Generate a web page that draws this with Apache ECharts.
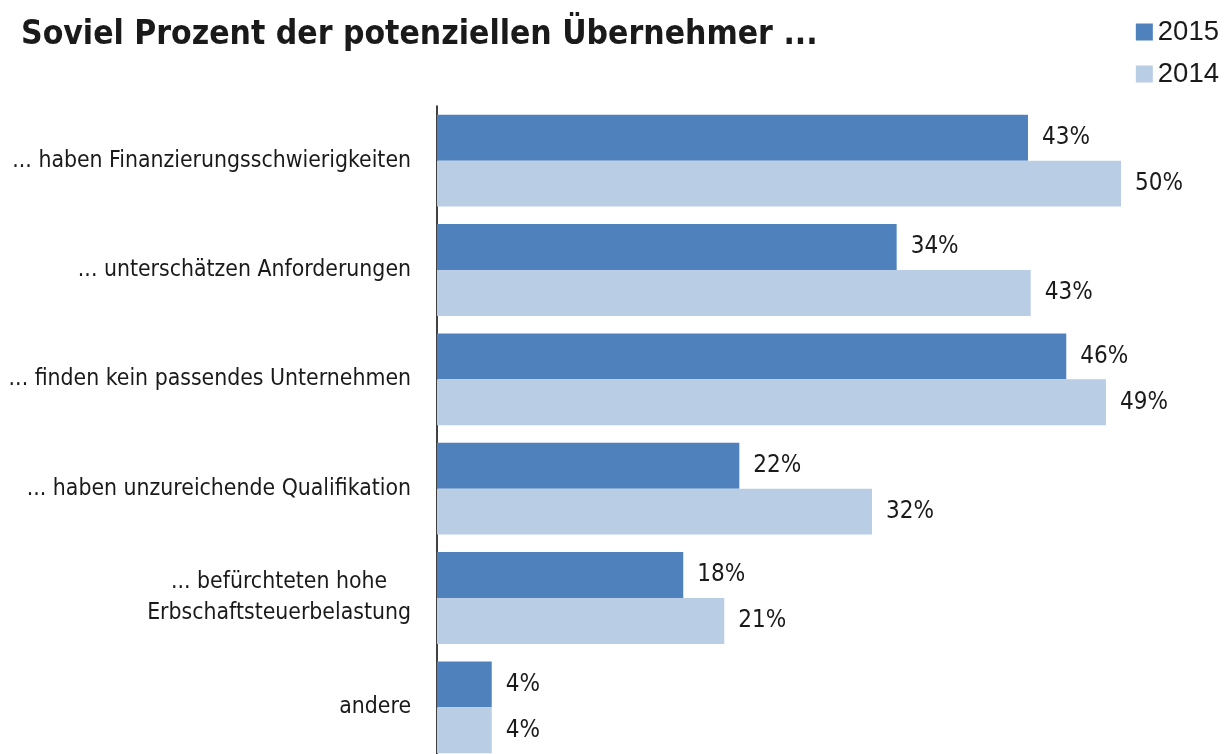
<!DOCTYPE html>
<html>
<head>
<meta charset="utf-8">
<script src="https://cdn.jsdelivr.net/npm/echarts@6/dist/echarts.min.js"></script>
<style>
  html, body { margin: 0; padding: 0; background: #fff; }
  #chart { width: 1228px; height: 754px; }
</style>
</head>
<body>
<div id="chart"></div>
<script>
// Daten (Balkenlängen, Beschriftung gerundet)
const categories = [
  '... haben Finanzierungsschwierigkeiten',
  '... unterschätzen Anforderungen',
  '... finden kein passendes Unternehmen',
  '... haben unzureichende Qualifikation',
  '... befürchteten hohe\nErbschaftsteuerbelastung',
  'andere'
];
const seriesNames = ['2015', '2014'];
const values2015 = [43.2, 33.6, 46.0, 22.1, 18.0, 4.0];
const values2014 = [50.0, 43.4, 48.9, 31.8, 21.0, 4.0];

const chart = echarts.init(document.getElementById('chart'));

const labelFont = 'DejaVu Sans Condensed';
const textColor = '#1a1a1a';

const barLabel = {
  show: true,
  position: 'right',
  distance: 14,
  formatter: p => Math.round(p.value) + '%',
  fontFamily: labelFont,
  fontSize: 24,
  color: textColor
};

const option = {
  animation: false,
  title: {
    text: 'Soviel Prozent der potenziellen Übernehmer ...',
    left: 16,
    top: 14,
    textStyle: {
      fontFamily: labelFont,
      fontWeight: 'bold',
      fontSize: 33.4,
      color: textColor
    }
  },
  legend: {
    orient: 'vertical',
    right: 4,
    top: 13,
    itemWidth: 17,
    itemHeight: 17,
    itemGap: 14,
    icon: 'rect',
    textStyle: { fontFamily: 'Liberation Sans', fontSize: 27.5, color: textColor },
    data: seriesNames
  },
  grid: {
    left: 437,
    top: 106,
    width: 684,
    height: 656,
    outerBoundsMode: 'none'
  },
  xAxis: {
    type: 'value',
    min: 0,
    max: 50,
    show: false
  },
  yAxis: {
    type: 'category',
    inverse: true,
    data: categories,
    axisLine: { lineStyle: { color: '#000', width: 1.5 } },
    axisTick: { show: false },
    axisLabel: {
      margin: 26,
      color: textColor,
      formatter: function (v) {
        return v.split('\n').map(s => '{c|' + s + '}').join('\n');
      },
      rich: {
        c: { align: 'center', fontFamily: labelFont, fontSize: 22.8, color: textColor, lineHeight: 31 }
      }
    }
  },
  series: [
    {
      name: seriesNames[0],
      type: 'bar',
      data: values2015,
      barGap: 0,
      barCategoryGap: '16%',
      itemStyle: { color: '#4f81bd' },
      label: barLabel
    },
    {
      name: seriesNames[1],
      type: 'bar',
      data: values2014,
      barGap: 0,
      barCategoryGap: '16%',
      itemStyle: { color: '#b9cde5' },
      label: barLabel
    }
  ]
};

chart.setOption(option);
</script>
</body>
</html>
